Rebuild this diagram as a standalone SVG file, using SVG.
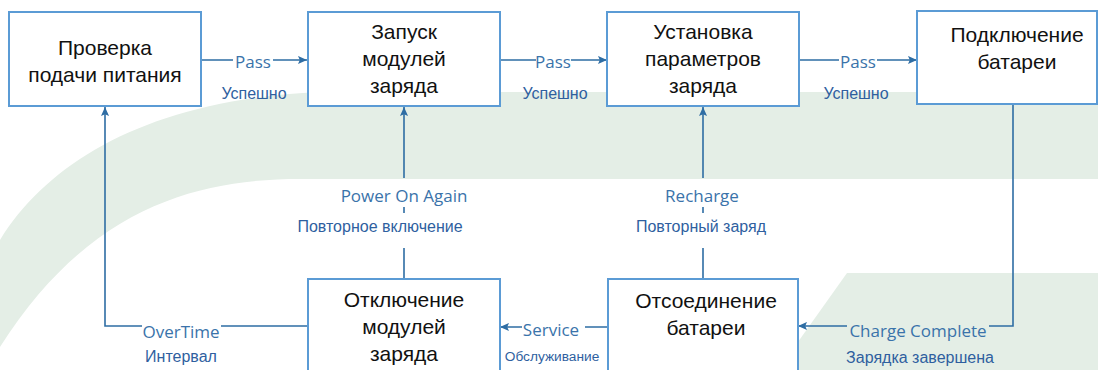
<svg xmlns="http://www.w3.org/2000/svg" width="1098" height="370" viewBox="0 0 1098 370">
<style>
.box{fill:#ffffff;stroke:#5b9bd5;stroke-width:2}
.nt{font-family:"Liberation Sans",Arial,sans-serif;font-size:21px;fill:#111111;text-anchor:middle}
.en{font-family:"Open Sans","Liberation Sans",sans-serif;font-size:17px;fill:#3a73aa;text-anchor:middle}
.ru{font-family:"Liberation Sans",Arial,sans-serif;font-size:16px;fill:#2f5f9f;text-anchor:middle}
.cn{fill:none;stroke:#2e6da4;stroke-width:1.6}
.bg{fill:#e4eee6}
</style>
<defs>
<marker id="arr" viewBox="0 0 10 10" refX="10" refY="5" markerWidth="9" markerHeight="9" markerUnits="userSpaceOnUse" orient="auto">
<path d="M0,0.5 L10,5 L0,9.5 L2,5 z" fill="#2e6da4"/>
</marker>
</defs>
<rect width="1098" height="370" fill="#ffffff"/>
<g id="background">
<path class="bg" d="M0,240 C50,160 150,100 320,92 L1098,92 L1098,179 L300,179 C200,179 90,205 0,347 Z"/>
<path class="bg" d="M847,273 L1098,273 L1098,370 L778,370 Z"/>
</g>
<g id="connectors">
<path class="cn" d="M201,60 H233 M273,60 H307" marker-end="url(#arr)"/>
<path class="cn" d="M500,60 H536 M571,60 H607" marker-end="url(#arr)"/>
<path class="cn" d="M799,60 H839 M877,60 H917" marker-end="url(#arr)"/>
<path class="cn" d="M404,279 V248 M404,213 V207 M404,178 V107" marker-end="url(#arr)"/>
<path class="cn" d="M703,279 V248 M703,213 V207 M703,178 V107" marker-end="url(#arr)"/>
<path class="cn" d="M1013,104 V326 H989 M847,326 H798" marker-end="url(#arr)"/>
<path class="cn" d="M608,327 H585 M522,327 H500" marker-end="url(#arr)"/>
<path class="cn" d="M308,326 H221 M142,326 H105 V107" marker-end="url(#arr)"/>
<text class="en" x="253" y="68">Pass</text>
<text class="ru" x="254" y="99">Успешно</text>
<text class="en" x="553" y="68">Pass</text>
<text class="ru" x="555" y="99">Успешно</text>
<text class="en" x="858" y="68">Pass</text>
<text class="ru" x="856" y="99">Успешно</text>
<text class="en" x="404" y="202">Power On Again</text>
<text class="ru" x="380" y="232">Повторное включение</text>
<text class="en" x="702" y="202">Recharge</text>
<text class="ru" x="701" y="232">Повторный заряд</text>
<text class="en" x="918" y="337">Charge Complete</text>
<text class="ru" x="920" y="363">Зарядка завершена</text>
<text class="en" x="551" y="336">Service</text>
<text class="ru" x="552" y="361" style="font-size:13.7px">Обслуживание</text>
<text class="en" x="181" y="338">OverTime</text>
<text class="ru" x="181" y="362">Интервал</text>
</g>
<g id="node-power-check">
<rect class="box" x="9" y="12" width="192" height="94"/>
<text class="nt" x="105" y="55">Проверка</text>
<text class="nt" x="105" y="82">подачи питания</text>
</g>
<g id="node-start-modules">
<rect class="box" x="308" y="12" width="192" height="94"/>
<text class="nt" x="404" y="39">Запуск</text>
<text class="nt" x="404" y="66">модулей</text>
<text class="nt" x="404" y="93">заряда</text>
</g>
<g id="node-set-params">
<rect class="box" x="607" y="12" width="192" height="94"/>
<text class="nt" x="703" y="39">Установка</text>
<text class="nt" x="703" y="66">параметров</text>
<text class="nt" x="703" y="93">заряда</text>
</g>
<g id="node-connect-battery">
<rect class="box" x="917" y="11" width="180" height="93"/>
<text class="nt" x="1017" y="42">Подключение</text>
<text class="nt" x="1017" y="69">батареи</text>
</g>
<g id="node-stop-modules">
<rect class="box" x="308" y="279" width="192" height="100"/>
<text class="nt" x="404" y="307">Отключение</text>
<text class="nt" x="404" y="334">модулей</text>
<text class="nt" x="404" y="361">заряда</text>
</g>
<g id="node-disconnect-battery">
<rect class="box" x="608" y="279" width="190" height="100"/>
<text class="nt" x="706" y="308">Отсоединение</text>
<text class="nt" x="706" y="335">батареи</text>
</g>
</svg>
